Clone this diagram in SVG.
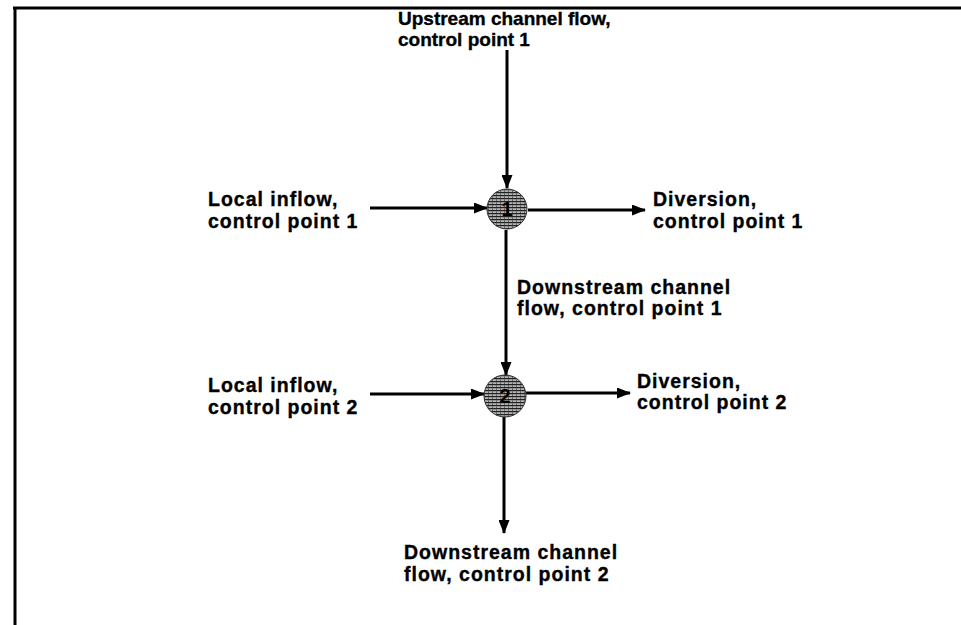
<svg xmlns="http://www.w3.org/2000/svg" width="961" height="625" viewBox="0 0 961 625">
<style>
.lbl{font-family:"Liberation Sans",Arial,sans-serif;font-weight:bold;font-size:19.5px;fill:#000;stroke:#000;stroke-width:0.35;letter-spacing:1px}
.up{letter-spacing:0;font-size:19px}
.num{font-family:"Liberation Sans",Arial,sans-serif;font-weight:bold;font-size:20px;fill:#000;text-anchor:middle}
.con{stroke:#000;stroke-width:3;fill:none;marker-end:url(#ah)}
.cp{fill:url(#ht);stroke:#333;stroke-width:1}
</style>
<defs>
<marker id="ah" viewBox="0 0 14 11" refX="13" refY="5.5" markerWidth="14" markerHeight="11" markerUnits="userSpaceOnUse" orient="auto">
<path d="M0,0 L14,5.5 L0,11 Z" fill="#000"/>
</marker>
<pattern id="ht" width="4" height="3" patternUnits="userSpaceOnUse">
<rect width="4" height="3" fill="#b4b4b4"/>
<rect y="0" width="4" height="1.2" fill="#222"/>
<rect x="0" y="1.2" width="1" height="1.8" fill="#666"/>
</pattern>
</defs>
<rect width="961" height="625" fill="#fff"/>
<g id="frame">
<line x1="13" y1="8" x2="961" y2="8" stroke="#000" stroke-width="3"/>
<line x1="15" y1="7" x2="15" y2="625" stroke="#000" stroke-width="3"/>
</g>
<g id="connectors">
<line class="con" x1="507" y1="50" x2="507" y2="188"/>
<line class="con" x1="370" y1="208" x2="487" y2="208"/>
<line class="con" x1="528" y1="210" x2="645" y2="210"/>
<line class="con" x1="506" y1="230" x2="506" y2="375"/>
<line class="con" x1="370" y1="394" x2="484" y2="394"/>
<line class="con" x1="526" y1="393" x2="630" y2="393"/>
<line class="con" x1="504" y1="417" x2="504" y2="533"/>
</g>
<g id="cp1">
<circle class="cp" cx="507" cy="209" r="20"/>
<text class="num" x="507" y="216">1</text>
</g>
<g id="cp2">
<circle class="cp" cx="505" cy="396" r="21"/>
<text class="num" x="505" y="403">2</text>
</g>
<g id="upstream">
<text class="lbl up" x="398" y="25">Upstream channel flow,</text>
<text class="lbl up" x="398" y="46">control point 1</text>
</g>
<g id="local1">
<text class="lbl" x="208" y="206">Local inflow,</text>
<text class="lbl" x="208" y="228">control point 1</text>
</g>
<g id="diversion1">
<text class="lbl" x="653" y="206">Diversion,</text>
<text class="lbl" x="653" y="228">control point 1</text>
</g>
<g id="downstream1">
<text class="lbl" x="517" y="294">Downstream channel</text>
<text class="lbl" x="517" y="315">flow, control point 1</text>
</g>
<g id="local2">
<text class="lbl" x="208" y="392">Local inflow,</text>
<text class="lbl" x="208" y="414">control point 2</text>
</g>
<g id="diversion2">
<text class="lbl" x="637" y="388">Diversion,</text>
<text class="lbl" x="637" y="409">control point 2</text>
</g>
<g id="downstream2">
<text class="lbl" x="404" y="559">Downstream channel</text>
<text class="lbl" x="404" y="581">flow, control point 2</text>
</g>
</svg>
